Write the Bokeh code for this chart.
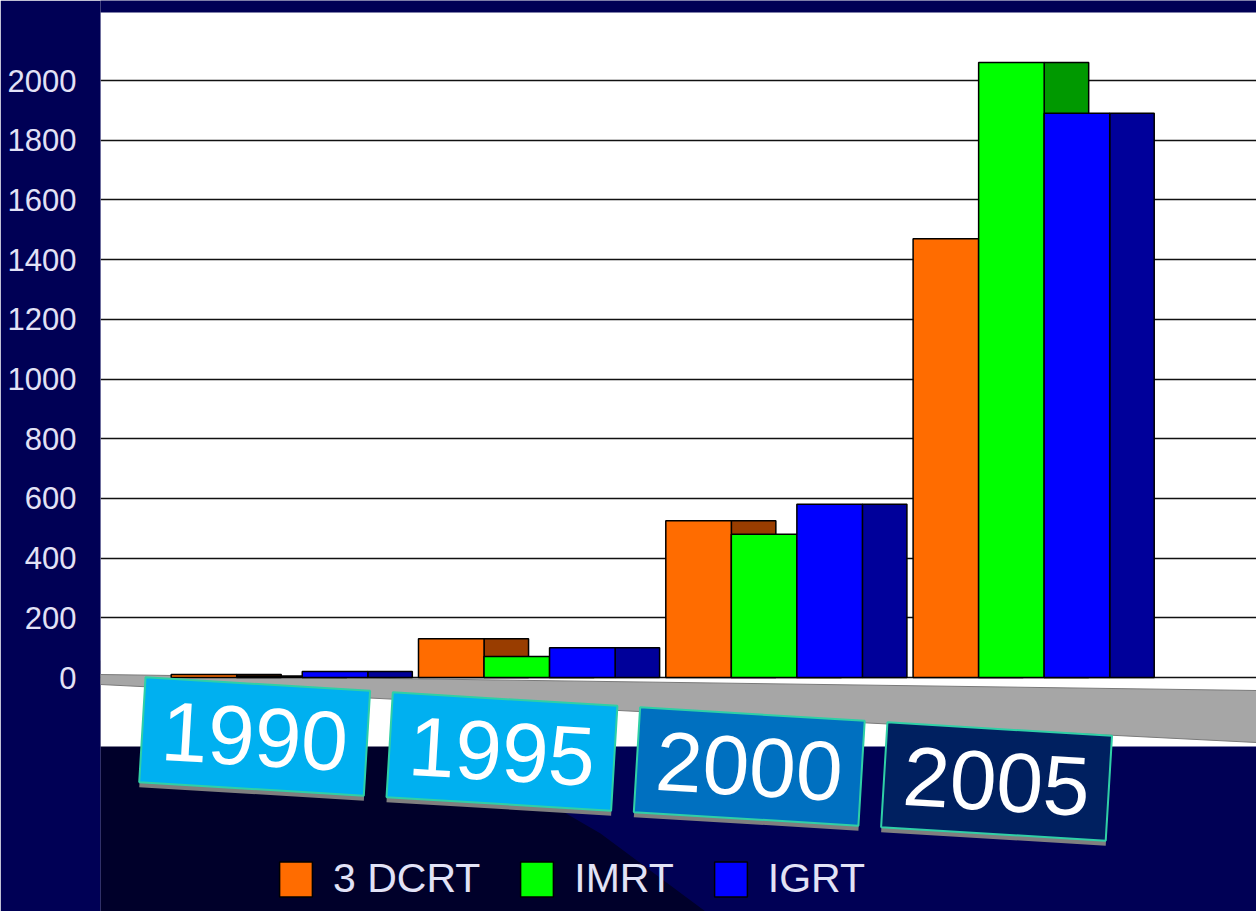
from bokeh.plotting import figure
from bokeh.models import (Range1d, FixedTicker, BoxAnnotation, PolyAnnotation,
                          Legend, LegendItem, ColumnDataSource)
from bokeh.core.properties import value
from bokeh.embed import file_html
from bokeh.resources import INLINE

# ---------------- data ----------------
years = ["1990", "1995", "2000", "2005"]
series_names = ["3 DCRT", "IMRT", "IGRT"]
dcrt = [10, 130, 525, 1470]
imrt = [5, 70, 480, 2060]
igrt = [20, 100, 580, 1890]
y_ticks = [0, 200, 400, 600, 800, 1000, 1200, 1400, 1600, 1800, 2000]

# ---------------- style ----------------
front_colors = ["#ff6c00", "#00ff00", "#0000ff"]
side_colors = ["#993d00", "#009900", "#00009a"]
label_fills = ["#00b0f0", "#00b0f0", "#0070c0", "#002060"]
NAVY = "#000055"
LAV = "#e2e2f6"
FONT = "Liberation Sans"

W, H = 1256, 911
LEFT = 100
ppu = 597.0 / 2000.0       # pixels per value unit
y0_px = 677.0              # canvas y of value 0
ppx = 247.3                # pixels per group
x0_px = 269.0              # canvas x of first group centre

def vy(px):                # canvas y -> data y
    return (y0_px - px) / ppu

def vx(px):                # canvas x -> data x
    return (px - x0_px) / ppx

x_start, x_end = vx(LEFT), vx(W)
y_start, y_end = vy(H), vy(0)

p = figure(width=W, height=H, output_backend="svg", toolbar_location=None,
           x_range=Range1d(x_start, x_end), y_range=Range1d(y_start, y_end),
           x_axis_location=None, min_border_left=LEFT, min_border_right=0,
           min_border_top=0, min_border_bottom=0)
p.background_fill_color = NAVY
p.border_fill_color = NAVY
p.outline_line_color = None
p.xgrid.visible = False
p.ygrid.grid_line_color = "#111111"
p.ygrid.grid_line_width = 1.6

ax = p.yaxis[0]
ax.ticker = FixedTicker(ticks=y_ticks)
ax.axis_line_color = None
ax.major_tick_line_color = None
ax.minor_tick_line_color = None
ax.major_label_standoff = 18
ax.major_label_text_font_size = "31px"
ax.major_label_text_color = LAV
ax.major_label_text_font = FONT

# background decoration (darker diagonal region of the slide)
def band(pts, color):
    xs = [vx(a) for a, b in pts]
    ys = [vy(b) for a, b in pts]
    p.add_layout(PolyAnnotation(xs=xs, ys=ys, fill_color=color, fill_alpha=1,
                                line_color=None, level="image"))

band([(100, 660), (300, 720), (500, 775), (600, 833), (705, 911), (100, 911)], "#00002a")

# white chart area
p.add_layout(BoxAnnotation(bottom=vy(746), top=vy(12), fill_color="white",
                           fill_alpha=1, line_color=None, level="image"))

# floor
p.patch([x_start, x_end, x_end, x_start], [vy(674), vy(690), vy(742), vy(684)],
        fill_color="#a6a6a6", line_color="#7a7a7a", line_width=1)

# bars
bw = 0.265
depth = 0.18
values = [dcrt, imrt, igrt]
front_renderers = []
for s, vals in enumerate(values):
    xs = [i + (s - 1) * bw for i in range(len(years))]
    src = ColumnDataSource(dict(x=xs, top=vals,
                                l=[x + bw / 2 for x in xs],
                                r=[x + bw / 2 + depth for x in xs]))
    p.quad(left="l", right="r", bottom=0, top="top", source=src,
           fill_color=side_colors[s], line_color="black", line_width=1.5)
    r = p.vbar(x="x", width=bw, bottom=0, top="top", source=src,
               fill_color=front_colors[s], line_color="black", line_width=1.5)
    front_renderers.append(r)

# year labels in tilted boxes
lab_x = [i - 0.06 for i in range(len(years))]
lab_y = [vy(736 + 15 * i) for i in range(len(years))]
ang = -0.06
p.rect(x=lab_x, y=[v - 5 / ppu for v in lab_y], width=225, height=105,
       width_units="screen", height_units="screen", angle=ang,
       fill_color="#7f7f7f", line_color=None)
p.rect(x=lab_x, y=lab_y, width=225, height=105, width_units="screen",
       height_units="screen", angle=ang, fill_color=label_fills,
       line_color="#2fd0a6", line_width=2)
p.text(x=lab_x, y=lab_y, text=years, angle=ang, text_align="center",
       text_baseline="middle", text_font_size="84px", text_color="white",
       text_font=value(FONT))

legend = Legend(items=[LegendItem(label=n, renderers=[r])
                       for n, r in zip(series_names, front_renderers)],
                orientation="horizontal", location=(175, 9),
                glyph_width=41, glyph_height=44, label_standoff=17, spacing=36,
                padding=0, margin=0, background_fill_alpha=0,
                border_line_color=None, label_text_color=LAV,
                label_text_font_size="41px", label_text_font=FONT)
p.add_layout(legend)

open("out.html", "w").write(file_html(p, INLINE))
